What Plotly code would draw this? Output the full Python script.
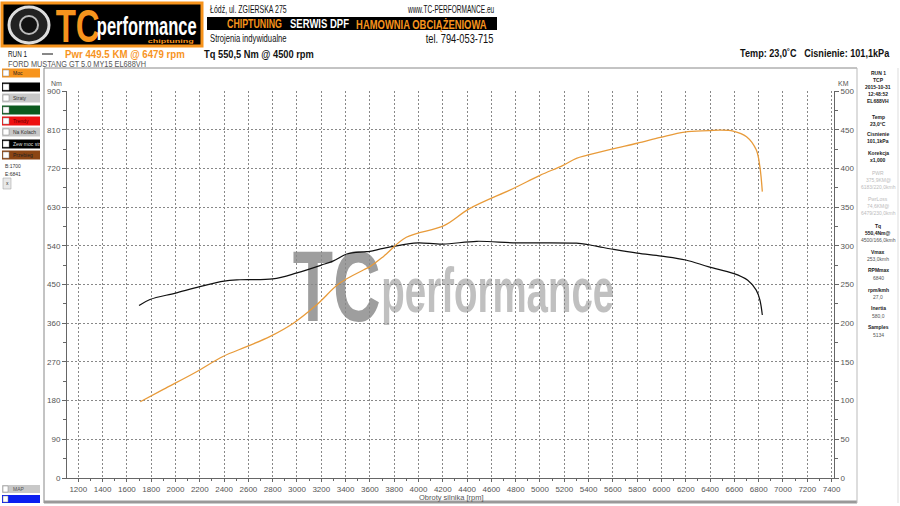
import json
import plotly.graph_objects as go

# ---------------- data ----------------
tq_rpm = [1700, 1790, 2000, 2200, 2400, 2530, 2800, 3000, 3200, 3300, 3410, 3550, 3600, 3710, 3900,
          4000, 4200, 4480, 4780, 5000, 5300, 5390, 5520, 5600, 5800, 6000, 6200, 6390, 6590, 6710,
          6780, 6810, 6830]
tq_nm = [401, 415, 430, 445, 458, 461, 463, 477, 495, 505, 521, 526, 527, 534, 544,
         547, 544, 550.5, 547, 547, 546, 543, 536, 532, 523, 516, 507, 491, 476, 460,
         437, 414, 379]

pw_rpm = [1710, 1900, 2170, 2390, 2590, 2780, 2970, 3160, 3350, 3550, 3600, 3710, 3900, 4210,
          4420, 4780, 5000, 5190, 5300, 5390, 5590, 5800, 5990, 6190, 6390, 6480, 6590, 6700,
          6780, 6810, 6830]
pw_km = [98.5, 114.5, 137, 157, 170, 183, 200, 223.5, 251.5, 269, 273, 286, 311, 326,
         348, 374, 391, 404, 413, 417, 425, 432.5, 440, 447, 448.7, 449.5, 448.3, 441,
         424, 402, 370]

x_ticks = list(range(1200, 7401, 200))
nm_ticks = list(range(0, 901, 90))
km_ticks = list(range(0, 501, 50))

info_lines = [
    ("RUN 1", "#222", True), ("TCP", "#222", True), ("2015-10-31", "#222", True),
    ("12:48:52", "#222", True), ("EL688VH", "#222", True),
    ("Temp", "#222", True), ("23,0°C", "#222", True), ("Cisnienie", "#222", True),
    ("101,1kPa", "#222", True), ("Korekcja", "#222", True), ("x1,000", "#222", True),
    ("PWR", "#bbb", False), ("375,9KM@", "#bbb", False), ("6183/220,0kmh", "#bbb", False),
    ("PwrLoss", "#bbb", False), ("74,6KM@", "#bbb", False), ("6479/230,0kmh", "#bbb", False),
    ("Tq", "#222", True), ("550,4Nm@", "#222", True), ("4500/166,0kmh", "#555", False),
    ("Vmax", "#222", True), ("253,0kmh", "#555", False), ("RPMmax", "#222", True),
    ("6840", "#555", False), ("rpm/kmh", "#222", True), ("27,0", "#555", False),
    ("Inertia", "#222", True), ("580,0", "#555", False), ("Samples", "#222", True),
    ("5134", "#555", False),
]
info_y = [73, 80, 87, 94, 101, 117, 124, 134, 141, 153, 160, 173, 180, 187, 199, 206, 213,
          226, 233, 240, 252, 259, 270, 278, 290, 297, 308, 316, 327, 335]

side_buttons = [("Moc", "#F7941D", "#222"), ("", "#000000", "#fff"), ("Straty", "#C8C8C8", "#333"),
                ("", "#0B5A1E", "#fff"), ("Trendy", "#EE1111", "#600"), ("Na Kolach", "#C8C8C8", "#333"),
                ("Zew moc str", "#000000", "#ddd"), ("Przebieg", "#8B4513", "#222")]
side_y = [73, 87, 98, 110, 121, 132, 144, 155]

ORANGE = "#F7941D"
LINE_OR = "#E89B3A"

# ---------------- geometry helpers ----------------
L, R, T, B = 67, 834, 91, 478
W, H = 900, 506


def X(px):
    return (px - L) / (R - L)


def Y(py):
    return (B - py) / (B - T)


fig = go.Figure()
fig.add_trace(go.Scatter(x=tq_rpm, y=tq_nm, mode="lines",
                         line=dict(color="#111", width=1.2, shape="spline"),
                         yaxis="y", showlegend=False, hoverinfo="skip"))
fig.add_trace(go.Scatter(x=pw_rpm, y=pw_km, mode="lines",
                         line=dict(color=LINE_OR, width=1.3, shape="spline"),
                         yaxis="y2", showlegend=False, hoverinfo="skip"))

SANS = "Liberation Sans, Arial, sans-serif"
tickfont = dict(family=SANS, size=8, color="#555")

fig.update_layout(
    width=W, height=H, margin=dict(l=L, r=W - R, t=T, b=H - B),
    paper_bgcolor="white", plot_bgcolor="rgba(0,0,0,0)",
    xaxis=dict(range=[1107, 7420], tickvals=x_ticks, ticktext=[str(v) for v in x_ticks],
               showgrid=True, gridcolor="#888", griddash="2px,2px", gridwidth=1,
               showline=True, linecolor="#666", linewidth=1, ticks="outside", ticklen=3,
               tickcolor="#666", tickfont=tickfont, zeroline=False,
               minor=dict(dtick=100, tick0=1200, ticks="outside", ticklen=2, tickcolor="#666",
                          showgrid=False)),
    yaxis=dict(range=[0, 900], tickvals=nm_ticks, ticktext=[str(v) for v in nm_ticks],
               showgrid=True, gridcolor="#888", griddash="2px,2px", gridwidth=1,
               showline=True, linecolor="#666", linewidth=1, ticks="outside", ticklen=4,
               tickcolor="#666", tickfont=tickfont, zeroline=False,
               minor=dict(dtick=45, tick0=0, ticks="outside", ticklen=3, tickcolor="#666",
                          showgrid=False)),
    yaxis2=dict(range=[0, 500], overlaying="y", side="right", tickvals=km_ticks,
                ticktext=[str(v) for v in km_ticks], showgrid=False,
                showline=True, linecolor="#666", linewidth=1, ticks="outside", ticklen=4,
                tickcolor="#666", tickfont=tickfont, zeroline=False,
                minor=dict(dtick=25, tick0=0, ticks="outside", ticklen=3, tickcolor="#666")),
)

shapes = []
ann = []
targets = {}   # annotation index -> [target pixel width, anchor] for horizontal condensing


def text(px, py, s, size=8, color="#333", xanchor="left", bold=False, family=SANS,
         width=None):
    shown = "<b>" + s + "</b>" if bold else s
    if width:
        targets[str(len(ann))] = [width, xanchor]
    ann.append(dict(x=X(px), y=Y(py), xref="paper", yref="paper", text=shown, showarrow=False,
                    xanchor=xanchor, yanchor="middle",
                    font=dict(size=size, color=color, family=family)))


def rect(x0, y0, x1, y1, fill, line=None, lw=1):
    shapes.append(dict(type="rect", xref="paper", yref="paper", x0=X(x0), x1=X(x1), y0=Y(y1),
                       y1=Y(y0), fillcolor=fill,
                       line=dict(color=line or fill, width=lw if line else 0)))


def hline(x0, x1, y, color, w=1):
    shapes.append(dict(type="line", xref="paper", yref="paper", x0=X(x0), x1=X(x1), y0=Y(y),
                       y1=Y(y), line=dict(color=color, width=w)))


def vline(x, y0, y1, color, w=1):
    shapes.append(dict(type="line", xref="paper", yref="paper", x0=X(x), x1=X(x), y0=Y(y0),
                       y1=Y(y1), line=dict(color=color, width=w)))


# ---------------- watermark (annotations 0 and 1, moved under the curves) ----------------
text(336, 286, "TC", size=100, color="#9E9E9E", xanchor="center", bold=True, width=88)
text(498, 290, "performance", size=62, color="#C0C0C0", xanchor="center", bold=True, width=233)

# ---------------- header logo ----------------
rect(2, 3, 202, 46, "#000000", ORANGE, 3)
shapes.append(dict(type="circle", xref="paper", yref="paper", x0=X(9), x1=X(49), y0=Y(43),
                   y1=Y(7), fillcolor="#222", line=dict(color="#ddd", width=3)))
shapes.append(dict(type="circle", xref="paper", yref="paper", x0=X(20), x1=X(38), y0=Y(34),
                   y1=Y(16), fillcolor="#111", line=dict(color="#bbb", width=2)))
text(77, 26, "TC", size=46, color=ORANGE, xanchor="center", bold=True, width=44)
text(147, 26, "performance", size=25, color="#fff", xanchor="center", bold=True, width=100)
text(171, 41, "chiptuning", size=5, color=ORANGE, xanchor="center", bold=True, width=46)

text(208, 9, "Łódź, ul. ZGIERSKA 275", size=10, color="#111", width=77)
text(496, 9, "www.TC-PERFORMANCE.eu", size=10, color="#111", xanchor="right", width=87)
rect(207, 17, 497, 30, "#000000")
text(225, 24, "CHIPTUNING", size=12, color=ORANGE, bold=True, width=55)
text(288, 24, "SERWIS DPF", size=12, color="#fff", bold=True, width=59)
text(354, 24, "HAMOWNIA OBCIĄŻENIOWA", size=12, color=ORANGE, bold=True, width=131)
text(208, 39, "Strojenia indywidualne", size=10, color="#111", width=77)
text(496, 39, "tel. 794-053-715", size=12, color="#111", xanchor="right", width=68)

# ---------------- run line ----------------
text(6, 54, "RUN 1", size=9, color="#111", width=19)
hline(42, 53, 54, "#111", 1)
text(63, 54, "Pwr 449.5 KM @ 6479 rpm", size=11, color=ORANGE, bold=True, width=120)
text(202, 54, "Tq 550,5 Nm @ 4500 rpm", size=11, color="#111", bold=True, width=110)
text(6, 64, "FORD MUSTANG GT 5.0 MY15 EL688VH", size=9, color="#555", width=138)
text(892, 53, "Temp: 23,0˚C   Cisnienie: 101,1kPa", size=11, color="#111", xanchor="right",
     bold=True, width=150)

# ---------------- frames ----------------
hline(44, 857, 68, "#888", 1)
vline(44, 68, 503, "#888", 1)
hline(44, 857, 502, "#999", 3)
vline(857, 68, 503, "#bbb", 1)
vline(898, 68, 503, "#ddd", 1)

text(56, 84, "Nm", size=7, color="#555", xanchor="center")
text(843, 84, "KM", size=7, color="#555", xanchor="center")
text(451, 497, "Obroty silnika [rpm]", size=7.5, color="#555", xanchor="center")

# ---------------- side buttons ----------------
for (lab, fill, tc), yy in zip(side_buttons, side_y):
    rect(2, yy - 4.5, 40, yy + 4.5, fill)
    rect(3, yy - 3, 9, yy + 3, "#ffffff", "#888", 0.5)
    if lab:
        text(11, yy, lab, size=5, color=tc)
text(3, 166, "B:1700", size=5, color="#333")
text(3, 174, "E:6841", size=5, color="#333")
rect(3, 178, 11, 189, "#E8E8E8", "#999", 0.5)
text(7, 183, "x", size=5, color="#333", xanchor="center")
rect(2, 485, 40, 493, "#C8C8C8")
rect(3, 486, 8, 492, "#ffffff", "#888", 0.5)
text(11, 489, "MAP", size=5, color="#555")
rect(2, 495, 40, 503, "#0A1EF0")
rect(3, 496, 8, 502, "#ffffff", "#888", 0.5)

# ---------------- right info panel ----------------
for (s, col, bold), yy in zip(info_lines, info_y):
    text(878, yy, s, size=5, color=col, xanchor="center", bold=bold)

fig.update_layout(shapes=shapes, annotations=ann)

post = """
(function(){
var targets = %s;
function fix(){
  document.body.style.margin = '0';
  document.querySelectorAll('g.annotation').forEach(function(g){
    var tg = targets[g.getAttribute('data-index')];
    if (!tg) return;
    var t = g.querySelector('text.annotation-text');
    if (!t || t.getAttribute('data-sx')) return;
    var bb = t.getBBox();
    if (!bb.width) return;
    var s = tg[0] / bb.width;
    var ax = tg[1] == 'left' ? bb.x : (tg[1] == 'right' ? bb.x + bb.width : bb.x + bb.width / 2);
    t.setAttribute('transform', 'translate(' + ax + ',0) scale(' + s + ',1) translate(' + (-ax) + ',0)');
    t.setAttribute('data-sx', '1');
  });
  var lb = document.querySelector('svg.main-svg g.layer-below');
  if (lb) {
    ['0', '1'].forEach(function(i){
      var g = document.querySelector('g.annotation[data-index="' + i + '"]');
      if (g && g.parentNode !== lb) lb.appendChild(g);
    });
  }
}
fix();
setTimeout(fix, 50);
setTimeout(fix, 300);
})();
""" % json.dumps(targets, ensure_ascii=False)

fig.write_html("out.html", post_script=post, config={"displayModeBar": False})
